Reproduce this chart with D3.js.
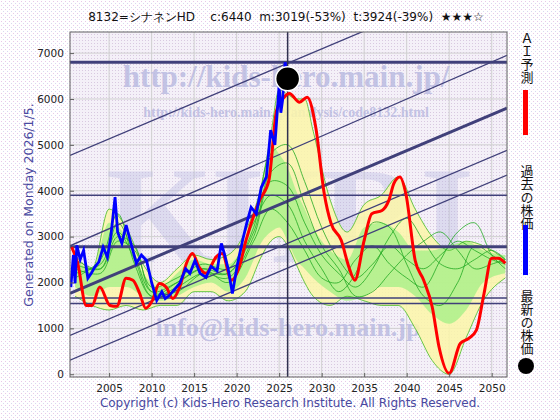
<!DOCTYPE html>
<html><head><meta charset="utf-8">
<script src="https://cdn.jsdelivr.net/npm/d3@7"></script>
<style>body{margin:0;background:#fff}svg{display:block}</style>
</head><body>
<svg id="c" width="560" height="420"></svg>
<script>
  'use strict';

  // historical price (blue)
  var pastYears  = [2000.5,2000.8,2001,2001.2,2001.6,2002.0,2002.5,2002.9,2003.3,2003.8,2004.3,2004.8,2005.2,2005.7,2006.0,2006.5,2007.0,2007.5,2008.2,2008.8,2009.4,2010.0,2010.6,2011.2,2011.6,2012.1,2012.7,2013.3,2014.0,2014.5,2015.1,2015.7,2016.4,2017.0,2017.7,2018.2,2018.6,2019.0,2019.5,2020.1,2020.7,2021.2,2021.7,2022.3,2022.9,2023.5,2024.0,2024.5,2025.0,2025.2,2025.4,2025.7,2026.0];
  var pastPrices = [1900,2600,1980,2810,2500,2700,2090,2200,2330,2450,2770,2550,3000,3860,3100,2850,3250,2900,2420,2600,2480,2000,1610,1800,1650,1720,1850,1980,2300,2200,2480,2200,2110,2350,2250,2850,2600,2300,1760,2400,2920,3300,3640,3500,4070,4300,5320,5000,6300,5700,5970,6800,6440];

  // AI forecast (red)
  var aiYears  = [2000.6,2001.3,2002.3,2003.0,2003.9,2005.1,2005.9,2007.0,2007.8,2008.6,2009.3,2010.1,2010.9,2011.7,2012.5,2013.3,2014.1,2014.8,2015.6,2016.4,2017.6,2018.3,2019.4,2020.3,2021.1,2022.7,2023.8,2024.7,2025.6,2026.2,2027.4,2028.3,2029.3,2030.3,2031.1,2032.3,2033.2,2033.9,2035.0,2035.9,2037.1,2037.9,2038.5,2039.2,2039.9,2041.0,2042.0,2043.0,2043.8,2045.0,2046.3,2047.3,2048.2,2049.1,2050.0,2050.8,2051.6];
  var aiPrices = [2770,2420,1500,1500,1900,1500,1480,2090,2050,1760,1440,1610,1980,1900,1650,1900,2420,2630,2330,2200,2560,2630,2050,2330,2920,3790,4230,5750,6040,6120,5930,6040,5390,3940,3290,2920,2340,2050,2920,3500,3570,3790,4160,4300,3940,2480,2050,1470,600,20,670,780,960,1760,2530,2530,2420];

  // simulation envelopes
  var bandYears = [2001,2003,2005,2007,2009,2011,2013,2015,2017,2019,2021,2023,2024,2025,2026,2027,2028,2029,2031,2033,2035,2037,2039,2041,2043,2045,2047,2049,2051.6];
  var yellowHi  = [2600,2300,3600,3200,2400,2000,2300,2600,2500,2600,3100,4200,5200,6200,6100,6000,6000,5300,3800,3100,3700,3900,4300,3600,3000,2700,2900,2800,2500];
  var yellowLo  = [1700,1500,1400,1500,1400,1500,1500,1800,1800,1600,1800,2600,2900,3000,2800,2400,2000,1700,1500,1700,1600,1500,1500,1000,300,0,800,1600,2100];
  var greenHi   = [2500,2300,3300,3000,2200,1900,2200,2500,2400,2400,2900,4000,5000,4800,4500,4000,3600,3200,2700,2500,3200,3300,3100,2700,2700,2800,2900,2700,2600];
  var greenLo   = [1900,1700,1900,1900,1700,1600,1700,1900,2000,1800,2100,2900,3100,3200,2900,2500,2300,2100,1800,1600,1700,1900,1900,1700,1300,1100,1400,2000,2200];

  // a few simulation paths (green)
  var simYears = [2001,2004,2006,2008,2010,2013,2016,2019,2022,2024,2026,2028,2030,2032,2034,2036,2038,2040,2042,2044,2046,2048,2050,2051.6];
  var sims = [
    [2400,2300,3300,2600,1800,2000,2300,2200,3200,4800,5000,4200,3200,2500,2100,2400,2800,2500,2300,2600,2900,2700,2500,2400],
    [2200,2400,3100,2500,1700,1900,2200,2100,3000,4200,4100,3300,2600,2200,1900,2300,3000,3400,2900,2400,2300,2500,2700,2500],
    [2300,2200,2900,2700,1900,2100,2400,2300,3300,3900,3700,2900,2300,1800,2200,3300,3200,2400,1700,1500,2000,2800,2600,2400],
    [2100,2500,3500,2400,1700,2000,2300,2000,2900,3600,3300,2700,2100,2000,2500,2800,2400,2100,1900,2500,3100,3300,2600,2300],
    [2500,2300,3000,2800,1800,1800,2200,2200,3100,4400,4600,3700,2800,2300,1700,1800,2200,2600,2900,3100,2700,2300,2400,2500]
  ];

  var hLines = [6800,3900,2780,1660,1540];
  var hThick = [3,1.5,3,1.5,1.5];
  var channelL = [4770,2800,1765,845,305];
  var channelR = [8800,6950,5800,4880,4340];
  var channelW = [1.3,1.3,3,1.3,1.3];

  var yTicks = [0,1000,2000,3000,4000,5000,6000,7000];
  var xTicks = [2005,2010,2015,2020,2025,2030,2035,2040,2045,2050];

  var svg = d3.select('#c');
  var L = 70, R = 507, T = 32, B = 377;
  var x = d3.scaleLinear().domain([2000.4, 2051.8]).range([L, R]);
  var y = d3.scaleLinear().domain([-60, 7460]).range([B, T]);

  // dotted backgrounds
  var defs = svg.append('defs');
  var p1 = defs.append('pattern').attr('id','dots').attr('width',4).attr('height',4).attr('patternUnits','userSpaceOnUse');
  p1.append('rect').attr('width',4).attr('height',4).attr('fill','#fff');
  p1.append('rect').attr('x',1).attr('y',1).attr('width',1).attr('height',1).attr('fill','#e8c8e8');
  p1.append('rect').attr('x',3).attr('y',3).attr('width',1).attr('height',1).attr('fill','#d8d8f0');
  var p2 = defs.append('pattern').attr('id','pdots').attr('width',3).attr('height',3).attr('patternUnits','userSpaceOnUse');
  p2.append('rect').attr('width',3).attr('height',3).attr('fill','#f4f0f8');
  p2.append('rect').attr('x',1).attr('y',1).attr('width',1).attr('height',1).attr('fill','#d8c8e0');
  defs.append('clipPath').attr('id','clip').append('rect').attr('x',L).attr('y',T).attr('width',R-L).attr('height',B-T);

  svg.append('rect').attr('width',560).attr('height',420).attr('fill','url(#dots)');
  svg.append('rect').attr('x',L).attr('y',T).attr('width',R-L).attr('height',B-T).attr('fill','url(#pdots)');

  var g = svg.append('g').attr('clip-path','url(#clip)');

  // grid
  g.selectAll('.gy').data(yTicks).enter().append('line')
    .attr('x1',L).attr('x2',R).attr('y1',d=>y(d)).attr('y2',d=>y(d)).attr('stroke','#d0d0d0');
  g.selectAll('.gx').data(xTicks).enter().append('line')
    .attr('y1',T).attr('y2',B).attr('x1',d=>x(d)).attr('x2',d=>x(d)).attr('stroke','#d0d0d0');

  // watermarks (behind the marks)
  var wm = g.append('g').attr('fill','#b8b8e0').attr('opacity',0.8).attr('font-family','Liberation Serif, serif').attr('font-weight','bold').attr('text-anchor','middle');
  wm.append('text').attr('x',290).attr('y',262).attr('font-size',138).attr('opacity',0.45).text('KHRI');
  wm.append('text').attr('x',286).attr('y',87).attr('font-size',31).text('http://kids-hero.main.jp/');
  wm.append('text').attr('x',286).attr('y',117).attr('font-size',14).text('http://kids-hero.main.jp/analysis/code8132.html');
  wm.append('text').attr('x',288).attr('y',336).attr('font-size',26).text('info@kids-hero.main.jp');

  // bands
  var area = (hi, lo) => d3.area().x((d,i)=>x(bandYears[i])).y0((d,i)=>y(lo[i])).y1((d,i)=>y(hi[i])).curve(d3.curveMonotoneX);
  g.append('path').datum(yellowHi).attr('d',area(yellowHi,yellowLo)).attr('fill','#fbf6a8').attr('opacity',0.85);
  g.append('path').datum(greenHi).attr('d',area(greenHi,greenLo)).attr('fill','#a8f088').attr('opacity',0.8);
  g.append('path').datum(yellowHi).attr('d',d3.line().x((d,i)=>x(bandYears[i])).y(d=>y(d)).curve(d3.curveMonotoneX)).attr('fill','none').attr('stroke','#44bb22').attr('stroke-width',0.8);
  g.append('path').datum(yellowLo).attr('d',d3.line().x((d,i)=>x(bandYears[i])).y(d=>y(d)).curve(d3.curveMonotoneX)).attr('fill','none').attr('stroke','#44bb22').attr('stroke-width',0.8);

  var simLine = d3.line().x((d,i)=>x(simYears[i])).y(d=>y(d)).curve(d3.curveCatmullRom);
  g.selectAll('.sim').data(sims).enter().append('path')
    .attr('d',simLine).attr('fill','none').attr('stroke','#22aa22').attr('stroke-width',0.8);

  // horizontal levels
  g.selectAll('.hl').data(hLines).enter().append('line')
    .attr('x1',L).attr('x2',R).attr('y1',d=>y(d)).attr('y2',d=>y(d))
    .attr('stroke','#40407a').attr('stroke-width',(d,i)=>hThick[i]);

  // channel lines
  g.selectAll('.ch').data(channelL).enter().append('line')
    .attr('x1',x(2000.4)).attr('x2',x(2051.8)).attr('y1',d=>y(d)).attr('y2',(d,i)=>y(channelR[i]))
    .attr('stroke','#40407a').attr('stroke-width',(d,i)=>channelW[i]);

  // current date
  g.append('line').attr('x1',x(2026)).attr('x2',x(2026)).attr('y1',T).attr('y2',B).attr('stroke','#303050').attr('stroke-width',1.5);

  var ln = (xs) => d3.line().x((d,i)=>x(xs[i])).y(d=>y(d)).curve(d3.curveMonotoneX);
  g.append('path').datum(aiPrices).attr('d',ln(aiYears)).attr('fill','none').attr('stroke','#ff0000').attr('stroke-width',3);
  g.append('path').datum(pastPrices).attr('d',d3.line().x((d,i)=>x(pastYears[i])).y(d=>y(d))).attr('fill','none').attr('stroke','#0000ff').attr('stroke-width',2.8);

  g.append('circle').attr('cx',x(2026)).attr('cy',y(6440)).attr('r',12).attr('fill','#000').attr('stroke','#fff').attr('stroke-width',1.5);

  svg.append('rect').attr('x',L).attr('y',T).attr('width',R-L).attr('height',B-T).attr('fill','none').attr('stroke','#606060');

  // axes
  var ax = svg.append('g').attr('transform','translate(0,'+B+')')
    .call(d3.axisBottom(x).tickValues(xTicks).tickFormat(d3.format('d')).tickSize(-4));
  var ay = svg.append('g').attr('transform','translate('+L+',0)')
    .call(d3.axisLeft(y).tickValues(yTicks).tickFormat(d3.format('d')).tickSize(-4));
  [ax, ay].forEach(a => {
    a.select('.domain').remove();
    a.selectAll('line').attr('stroke','#606060');
    a.selectAll('text').attr('font-family','DejaVu Sans, sans-serif').attr('font-size',10.5).attr('fill','#222');
  });
  ax.selectAll('text').attr('dy','1.1em');
  ay.selectAll('text').attr('dx','-0.3em');

  // texts
  svg.append('text').attr('x',286).attr('y',21).attr('text-anchor','middle')
    .attr('font-family','DejaVu Sans, sans-serif').attr('font-size',12).attr('fill','#111')
    .attr('xml:space','preserve')
    .text('8132=シナネンHD    c:6440  m:3019(-53%)  t:3924(-39%)  ★★★☆');

  svg.append('text').attr('transform','translate(33,205) rotate(-90)').attr('text-anchor','middle')
    .attr('font-family','DejaVu Sans, sans-serif').attr('font-size',12.5).attr('fill','#4848a0')
    .text('Generated on Monday 2026/1/5.');

  svg.append('text').attr('x',290).attr('y',407).attr('text-anchor','middle')
    .attr('font-family','DejaVu Sans, sans-serif').attr('font-size',12).attr('fill','#4848a0')
    .text('Copyright (c) Kids-Hero Research Institute. All Rights Reserved.');

  // legend (vertical)
  var leg = [
    {t:'ＡＩ予測', y:32, c:'#ff0000', by:90, bh:45},
    {t:'過去の株価', y:165, c:'#0000ff', by:225, bh:50},
    {t:'最新の株価', y:290, c:null, by:366}
  ];
  leg.forEach(d => {
    svg.append('text').attr('x',527).attr('y',d.y).attr('font-family','Noto Sans CJK JP, sans-serif')
      .attr('font-size',13).attr('fill','#111').style('writing-mode','vertical-rl').text(d.t);
    if (d.c) svg.append('rect').attr('x',523).attr('y',d.by).attr('width',5).attr('height',d.bh).attr('fill',d.c);
    else svg.append('circle').attr('cx',526).attr('cy',d.by).attr('r',8).attr('fill','#000');
  });
</script>
</body></html>
